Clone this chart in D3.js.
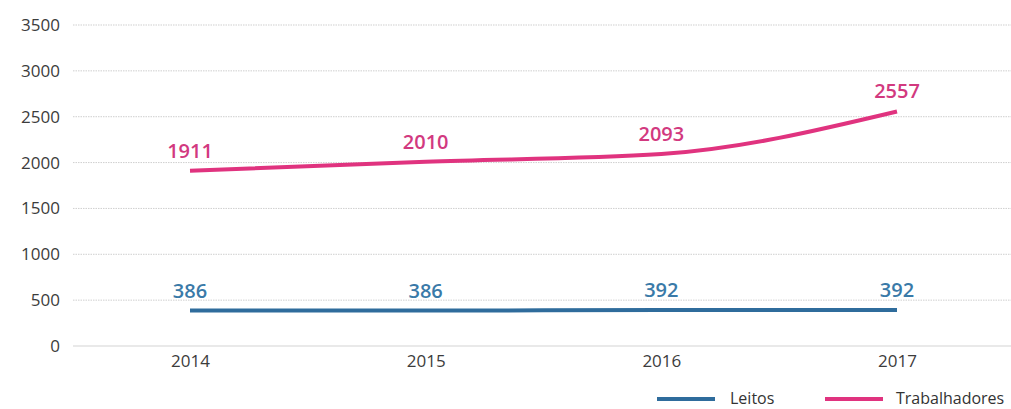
<!DOCTYPE html>
<html>
<head>
<meta charset="utf-8">
<script src="https://cdn.jsdelivr.net/npm/d3@7"></script>
<style>
  html, body { margin: 0; padding: 0; background: #fff; overflow: hidden; }
  svg { display: block; font-family: "Open Sans", "Noto Sans", sans-serif; }
</style>
</head>
<body>
<svg id="chart" width="1011" height="409"></svg>
<script>
// Years on the horizontal axis
const years = ["2014", "2015", "2016", "2017"];
// Hospital beds per year
const leitos = [386, 386, 392, 392];
// Workers per year
const trabalhadores = [1911, 2010, 2093, 2557];
// Vertical axis ticks
const yTicks = [0, 500, 1000, 1500, 2000, 2500, 3000, 3500];
const seriesNames = ["Leitos", "Trabalhadores"];

const colors = { Leitos: "#2f6c9c", Trabalhadores: "#e0337f" };
const labelColors = { Leitos: "#3a7aa8", Trabalhadores: "#d2397f" };

const svg = d3.select("#chart");
const W = 1011;
const gridLeft = 73;

const x = d3.scalePoint().domain(years).range([190, 897]);
const y = d3.scaleLinear().domain([0, 3500]).range([346, 25]);

// Horizontal gridlines
const grid = svg.append("g");
grid.selectAll("line").data(yTicks).join("line")
  .attr("x1", gridLeft).attr("x2", W)
  .attr("y1", d => y(d)).attr("y2", d => y(d))
  .attr("stroke", d => d === 0 ? "#e2e2e2" : "#cfcfcf")
  .attr("stroke-width", d => d === 0 ? 1.5 : 1)
  .attr("stroke-dasharray", d => d === 0 ? null : "1.5,1");

// Y axis labels
const yAxis = d3.axisLeft(y).tickValues(yTicks).tickSize(0).tickPadding(0).tickFormat(d3.format("d"));
svg.append("g").attr("transform", "translate(60,0)").call(yAxis)
  .call(g => g.select(".domain").remove())
  .call(g => g.selectAll("text").attr("fill", "#3c3c3c").style("font-size", "17px").style("font-family", "\"Open Sans\", sans-serif"));

// X axis labels
const xAxis = d3.axisBottom(x).tickSize(0).tickPadding(0);
svg.append("g").attr("transform", "translate(0,355)").call(xAxis)
  .call(g => g.select(".domain").remove())
  .call(g => g.selectAll("text").attr("fill", "#3c3c3c").style("font-size", "17px").style("font-family", "\"Open Sans\", sans-serif"));

const series = [
  { name: "Leitos", values: leitos },
  { name: "Trabalhadores", values: trabalhadores }
];

const line = d3.line()
  .x((d, i) => x(years[i]))
  .y(d => y(d))
  .curve(d3.curveMonotoneX);

series.forEach(s => {
  svg.append("path")
    .datum(s.values)
    .attr("fill", "none")
    .attr("stroke", colors[s.name])
    .attr("stroke-width", 4)
    .attr("d", line);

  svg.append("g").selectAll("text").data(s.values).join("text")
    .attr("x", (d, i) => x(years[i]))
    .attr("y", d => y(d) - 13)
    .attr("text-anchor", "middle")
    .attr("fill", labelColors[s.name])
    .style("font-size", "20px")
    .style("font-weight", 600)
    .text(d => d);
});

// Legend
const legend = svg.append("g");
const legendItems = [
  { name: seriesNames[0], x1: 657, x2: 715, tx: 730 },
  { name: seriesNames[1], x1: 825, x2: 883, tx: 896 }
];
legendItems.forEach(it => {
  legend.append("line")
    .attr("x1", it.x1).attr("x2", it.x2)
    .attr("y1", 399).attr("y2", 399)
    .attr("stroke", colors[it.name]).attr("stroke-width", 4);
  legend.append("text")
    .attr("x", it.tx).attr("y", 404)
    .attr("fill", "#333")
    .style("font-size", "16px")
    .text(it.name);
});
</script>
</body>
</html>
